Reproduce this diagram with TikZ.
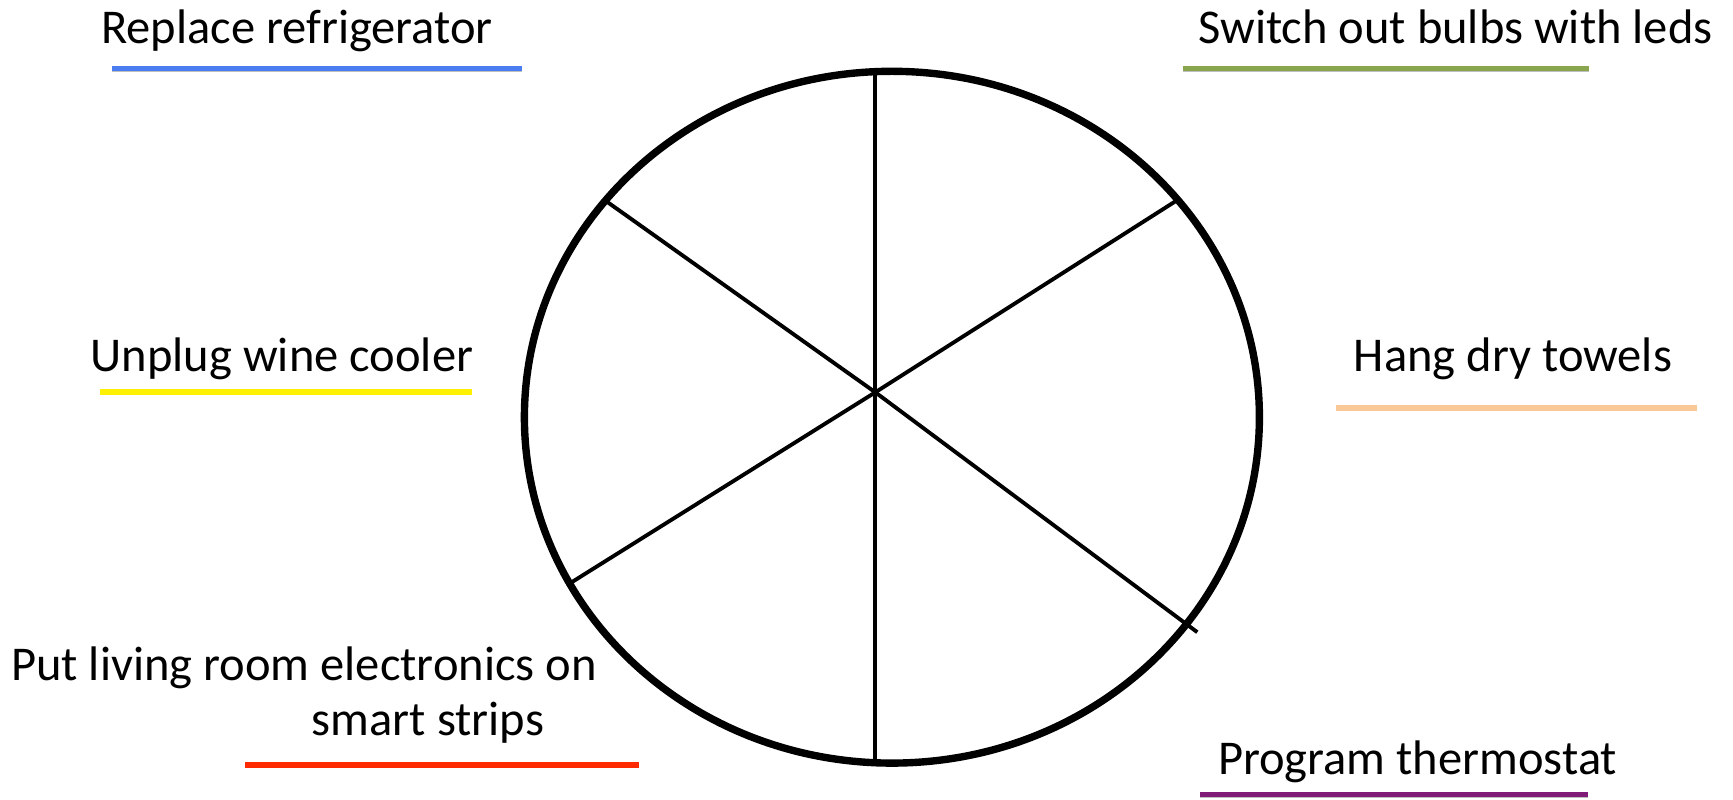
\documentclass[tikz,border=0pt]{standalone}
\usepackage{fontspec}
\setmainfont{Carlito}
\usetikzlibrary{positioning}

\definecolor{ulblue}{RGB}{74,126,240}
\definecolor{ulgreen}{RGB}{137,165,78}
\definecolor{ulyellow}{RGB}{255,240,0}
\definecolor{ulpeach}{RGB}{250,200,150}
\definecolor{ulred}{RGB}{255,42,0}
\definecolor{ulpurple}{RGB}{128,28,120}

\begin{document}
\begin{tikzpicture}[
  x=0.01cm, y=-0.01cm,
  every node/.style={font=\fontsize{13.8}{16.8}\selectfont}
]
\tikzset{
  task/.style  ={anchor=base, inner sep=0pt, text=black},
  rim/.style   ={draw=black, line width=2.1pt},
  spoke/.style ={draw=black, line width=1.1pt},
  uline/.style ={draw=#1, line width=1.6pt,
                 preaction={draw=black!25, transform canvas={yshift=-0.7pt}}}
}
\useasboundingbox (0,0) rectangle (1733,800);

%% ----- Wheel -----
\coordinate (hub) at (875.3,392.3);
\draw[rim, preaction={draw=black!20, transform canvas={yshift=-0.6pt}}]
  (891.9,417.2) ellipse [x radius=367.5, y radius=345.9];
\coordinate (sT)  at (875.3,69.6);
\coordinate (sB)  at (875.3,763.7);
\coordinate (sUL) at (604.5,200.0);
\coordinate (sUR) at (1179.2,198.9);
\coordinate (sLL) at (571.4,582.4);
\coordinate (sLR) at (1197.3,632.2);
\foreach \s in {sT,sB,sUL,sUR,sLL,sLR}
  \draw[spoke] (hub) -- (\s);

%% ----- Tasks, left -----
\node[task] (fridge) at (297,44)  {Replace refrigerator};
\node[task] (wine)   at (282,371) {Unplug wine cooler};
\node[task] (elec)   at (304,680) {Put living room electronics on};
\node[task] (strips) at (428,735) {smart strips};

\draw[uline=ulblue]   (111.6,68.5) -- (521.7,68.5);
\draw[uline=ulyellow] (99.5,392.3) -- (471.9,392.3);
\draw[uline=ulred]    (245.4,764.8) -- (638.8,764.8);

%% ----- Tasks, right -----
\node[task] (bulbs)  at (1455.6,44)  {Switch out bulbs with leds};
\node[task] (towels) at (1513,371)   {Hang dry towels};
\node[task] (thermo) at (1417.5,774) {Program thermostat};

\draw[uline=ulgreen]  (1182.6,68.5) -- (1589.3,68.5);
\draw[uline=ulpeach]  (1336,407.8) -- (1696.5,407.8);
\draw[uline=ulpurple] (1200.2,794.6) -- (1588.2,794.6);

\end{tikzpicture}
\end{document}
